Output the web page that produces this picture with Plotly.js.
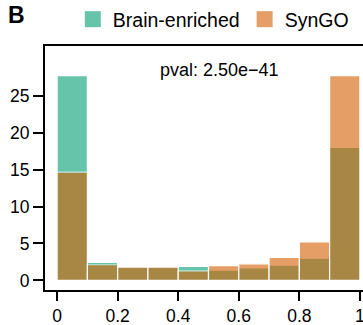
<!DOCTYPE html>
<html>
<head>
<meta charset="utf-8">
<script src="https://cdn.plot.ly/plotly-3.0.1.min.js"></script>
<style>
html, body { margin: 0; padding: 0; overflow: hidden; background: #fff; }
#chart { width: 400px; height: 325px; }
</style>
</head>
<body>
<div id="chart"></div>
<script>
// Histogram bins (centres of 0.1-wide bins) and per-bin values
const binCenters = [0.05, 0.15, 0.25, 0.35, 0.45, 0.55, 0.65, 0.75, 0.85, 0.95];
const brainEnriched = [27.75, 2.45, 1.8, 1.8, 1.9, 1.4, 1.7, 2.05, 3.0, 18.0];
const synGO = [14.66, 2.12, 1.8, 1.8, 1.3, 2.0, 2.25, 3.1, 5.2, 27.75];
const seriesNames = ['Brain-enriched', 'SynGO'];
const xTickVals = [0, 0.2, 0.4, 0.6, 0.8, 1];
const xTickText = ['0', '0.2', '0.4', '0.6', '0.8', '1'];
const yTickVals = [0, 5, 10, 15, 20, 25];
const pvalText = 'pval: 2.50e\u221241';

const colors = ['#009E73', '#D55E00'];
const FONT = 'Liberation Sans, Arial, sans-serif';

function barTrace(y, i) {
  return {
    type: 'bar', x: binCenters, y: y, width: 0.1, name: seriesNames[i],
    opacity: 0.6, showlegend: false, hoverinfo: 'skip',
    marker: { color: colors[i], line: { color: '#ffffff', width: 1.2 } }
  };
}
function legendTrace(i) {
  return {
    type: 'scatter', mode: 'markers', x: [null], y: [null], name: seriesNames[i],
    opacity: 0.6, showlegend: true,
    marker: { symbol: 'square', size: 18, color: colors[i] }
  };
}

const data = [barTrace(brainEnriched, 0), barTrace(synGO, 1), legendTrace(0), legendTrace(1)];

const axisCommon = {
  showline: true, mirror: true, linecolor: '#000', linewidth: 2,
  ticks: 'outside', ticklen: 9, tickwidth: 2, tickcolor: '#000',
  showgrid: false, zeroline: false,
  tickfont: { family: FONT, size: 17.5, color: '#000' }
};

const layout = {
  width: 400, height: 325,
  margin: { l: 45, r: 28, t: 46, b: 35 },
  paper_bgcolor: '#fff', plot_bgcolor: '#fff',
  barmode: 'overlay',
  font: { family: FONT, color: '#000' },
  xaxis: Object.assign({}, axisCommon, {
    range: [-0.04, 1.04], tickmode: 'array', tickvals: xTickVals, ticktext: xTickText
  }),
  yaxis: Object.assign({}, axisCommon, {
    range: [-1.3, 31.75], tickmode: 'array', tickvals: yTickVals, ticklen: 10
  }),
  legend: {
    orientation: 'h', x: 0.182, xref: 'container', xanchor: 'left',
    y: 1.0, yref: 'container', yanchor: 'top',
    font: { family: FONT, size: 19.5, color: '#000' },
    bgcolor: 'rgba(0,0,0,0)', itemclick: false, itemdoubleclick: false
  },
  annotations: [
    { text: pvalText, xref: 'x', yref: 'y', x: 0.535, y: 28.5, showarrow: false,
      xanchor: 'center', yanchor: 'middle', font: { family: FONT, size: 18, color: '#000' } },
    { text: '<b>B</b>', xref: 'paper', yref: 'paper', x: -0.086, y: 1.127, xanchor: 'center', yanchor: 'middle',
      showarrow: false, font: { family: FONT, size: 23, color: '#000' } }
  ]
};

Plotly.newPlot('chart', data, layout, { staticPlot: true, displayModeBar: false });
</script>
</body>
</html>
